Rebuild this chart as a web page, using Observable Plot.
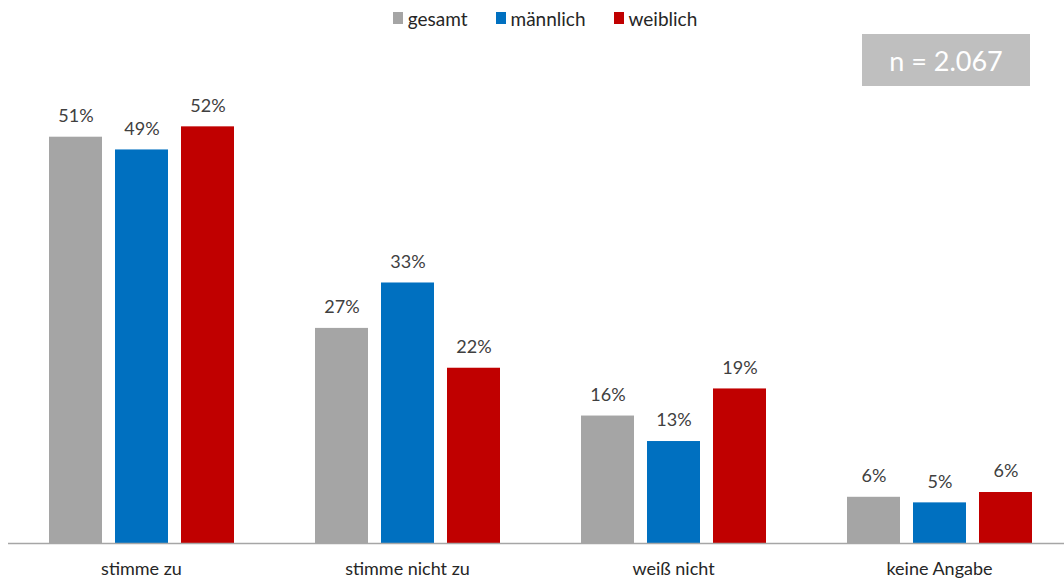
<!DOCTYPE html>
<html>
<head>
<meta charset="utf-8">
<script src="https://cdn.jsdelivr.net/npm/d3@7"></script>
<script src="https://cdn.jsdelivr.net/npm/@observablehq/plot@0.6"></script>
<style>
  html, body { margin: 0; padding: 0; background: #fff; }
  body { width: 1064px; height: 583px; position: relative; overflow: hidden; font-family: Lato, "Open Sans", sans-serif; }
  #legend { height: 36px; display: flex; justify-content: center; align-items: center; gap: 28px; font-size: 19px; color: #262626; padding-left: 26px; box-sizing: border-box; }
  #legend .item { display: flex; align-items: center; gap: 5px; }
  #legend .sw { width: 10px; height: 12px; display: inline-block; }
  #nbox { position: absolute; left: 862px; top: 34px; width: 168px; height: 52px; background: #bfbfbf; color: #fff; font-size: 27px; display: flex; align-items: center; justify-content: center; }
</style>
</head>
<body>
<div id="legend"></div>
<div id="chart"></div>
<div id="nbox"></div>
<script>
const categories = ["stimme zu", "stimme nicht zu", "weiß nicht", "keine Angabe"];
const series = ["gesamt", "männlich", "weiblich"];
const gesamt = [51, 27, 16, 5.8];
const maennlich = [49.4, 32.7, 12.8, 5.1];
const weiblich = [52.3, 22, 19.4, 6.4];
const colors = ["#a5a5a5", "#0070c0", "#c00000"];
const sampleNote = "n = 2.067";

const seriesValues = [gesamt, maennlich, weiblich];
const data = [];
categories.forEach((c, i) => {
  series.forEach((s, j) => data.push({cat: c, series: s, value: seriesValues[j][i]}));
});

const legend = document.getElementById("legend");
series.forEach((s, j) => {
  const it = document.createElement("span");
  it.className = "item";
  it.innerHTML = `<span class="sw" style="background:${colors[j]}"></span><span>${s}</span>`;
  legend.appendChild(it);
});
document.getElementById("nbox").textContent = sampleNote;

const chart = Plot.plot({
  width: 1064,
  height: 547,
  marginLeft: 0,
  marginRight: 0,
  marginTop: 29,
  marginBottom: 40,
  style: {fontFamily: "Lato, 'Open Sans', sans-serif", background: "#fff"},
  fx: {domain: categories, range: [7.5, 1071.5], padding: 0, label: null},
  x: {domain: series, axis: null, paddingInner: 0.2, paddingOuter: 0.615},
  y: {domain: [0, 60], axis: null},
  color: {domain: series, range: colors},
  marks: [
    Plot.barY(data, {fx: "cat", x: "series", y: "value", fill: "series"}),
    Plot.text(data, {fx: "cat", x: "series", y: "value", text: d => Math.round(d.value) + "%", dy: -21, fontSize: 18, fill: "#404040"}),
    Plot.ruleY([0], {stroke: "#a6a6a6", strokeWidth: 1.5}),
    Plot.axisFx({anchor: "bottom", tickSize: 0, tickPadding: 19, fontSize: 18, fill: "#262626", label: null})
  ]
});
document.getElementById("chart").appendChild(chart);
</script>
</body>
</html>
